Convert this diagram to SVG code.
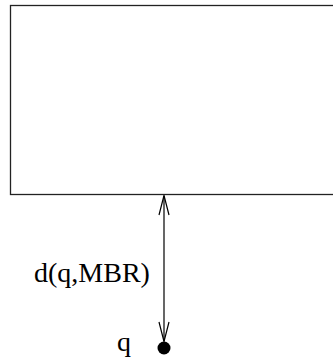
<svg xmlns="http://www.w3.org/2000/svg" width="333" height="357" viewBox="0 0 333 357">
<style>
.lbl{font-family:"Liberation Serif","Times New Roman",serif;font-size:28px;fill:#000}
.ln{stroke:#000;stroke-width:1.2;fill:none}
</style>
<rect width="333" height="357" fill="#fff"/>
<g id="mbr"><rect x="10.5" y="5.5" width="324" height="189" fill="none" stroke="#222" stroke-width="1.3"/></g>
<g id="connectors">
<line class="ln" x1="164" y1="195.5" x2="164" y2="341.5"/>
<polyline class="ln" points="159,215 164,195.5 169,215"/>
<polyline class="ln" points="159,322 164,341.5 169,322"/>
</g>
<g id="dist-label"><text class="lbl" x="34" y="282">d(q,MBR)</text></g>
<g id="q"><circle cx="164" cy="348" r="6.5" fill="#000"/><text class="lbl" x="117" y="351">q</text></g>
</svg>
